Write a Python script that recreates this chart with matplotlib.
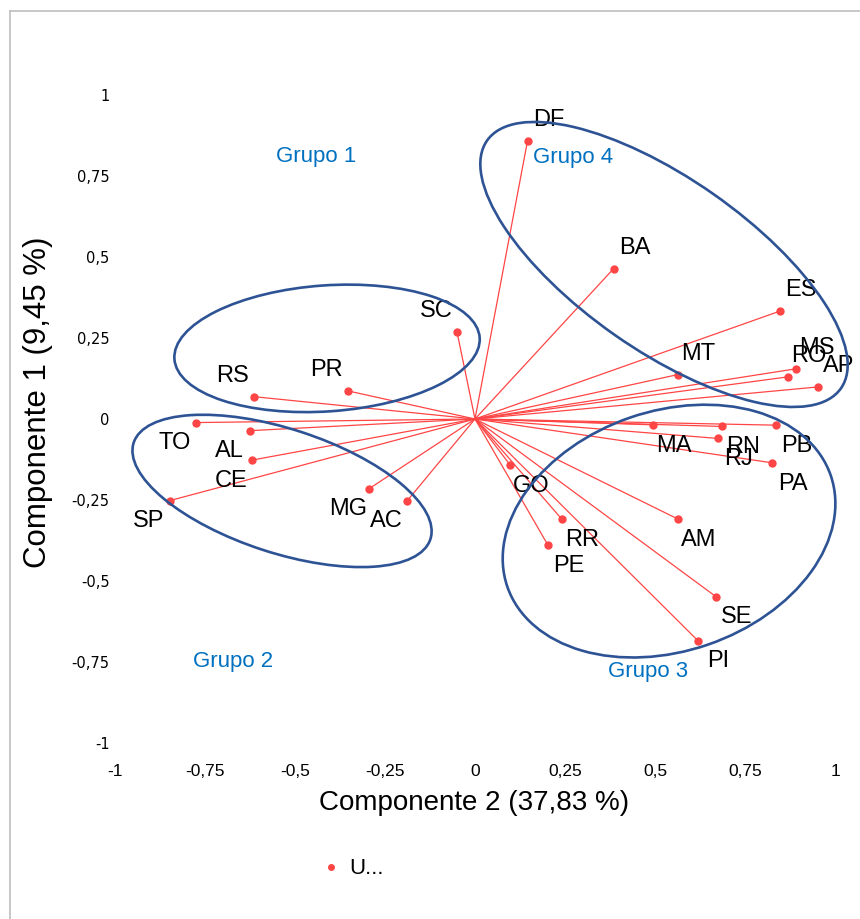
import matplotlib
matplotlib.use("Agg")
import matplotlib.pyplot as plt
import numpy as np
from matplotlib.patches import Ellipse
from matplotlib.transforms import ScaledTranslation

# PCA loadings per state: Componente 2 on x, Componente 1 on y
states = ['DF', 'BA', 'ES', 'MS', 'RO', 'AP', 'MT', 'MA', 'RN', 'PB', 'RJ', 'PA',
          'GO', 'RR', 'PE', 'AM', 'SE', 'PI', 'SC', 'PR', 'RS', 'TO', 'AL', 'CE',
          'SP', 'MG', 'AC']
comp2 = [0.146, 0.385, 0.847, 0.892, 0.869, 0.953, 0.563, 0.495, 0.686, 0.835, 0.675, 0.824,
         0.097, 0.241, 0.202, 0.564, 0.669, 0.619, -0.050, -0.354, -0.615, -0.775, -0.625, -0.620,
         -0.848, -0.294, -0.188]
comp1 = [0.859, 0.464, 0.333, 0.155, 0.130, 0.099, 0.137, -0.018, -0.023, -0.019, -0.060, -0.135,
         -0.141, -0.309, -0.388, -0.309, -0.548, -0.684, 0.269, 0.087, 0.069, -0.011, -0.036, -0.127,
         -0.252, -0.215, -0.252]

ticks = [-1, -0.75, -0.5, -0.25, 0, 0.25, 0.5, 0.75, 1]
tick_labels = ['-1', '-0,75', '-0,5', '-0,25', '0', '0,25', '0,5', '0,75', '1']

# group outlines: name, centre (data), semi-axes (px), angle (deg), label position (data)
groups = [
    ('Grupo 1', (-0.411, 0.218), 153, 63, 4, (-0.442, 0.809)),
    ('Grupo 2', (-0.536, -0.222), 156, 62, -18, (-0.672, -0.750)),
    ('Grupo 3', (0.539, -0.346), 171, 120, 19, (0.481, -0.778)),
    ('Grupo 4', (0.525, 0.477), 216, 86, -35, (0.272, 0.806)),
]

RED = '#FF4545'
BLUE = '#2E5395'
LABEL_BLUE = '#0070C0'

fig = plt.figure(figsize=(8.6, 9.19), dpi=100)
ax = fig.add_axes([115 / 860, 176 / 919, 720 / 860, 648 / 919])
ax.set_xlim(-1, 1)
ax.set_ylim(-1, 1)

for x, y in zip(comp2, comp1):
    ax.plot([0, x], [0, y], color=RED, lw=0.9, zorder=2)
ax.plot(comp2, comp1, 'o', color=RED, ms=5, ls='none', label='U...', zorder=3)

for name, x, y in zip(states, comp2, comp1):
    dx = 15 if x >= 0 else -15
    dy = 15 if y >= 0 else -15
    ax.annotate(name, (x, y), xytext=(dx, dy), textcoords='offset points',
                ha='center', va='center', fontsize=17, family='Liberation Sans',
                color='black', zorder=4)

for name, centre, a, b, ang, lpos in groups:
    tr = fig.dpi_scale_trans + ScaledTranslation(centre[0], centre[1], ax.transData)
    ax.add_patch(Ellipse((0, 0), 2 * a / 100, 2 * b / 100, angle=ang, transform=tr,
                         fill=False, edgecolor=BLUE, lw=1.9, zorder=5, clip_on=False))
    ax.text(lpos[0], lpos[1], name, color=LABEL_BLUE, fontsize=16,
            family='Liberation Sans', ha='center', va='center')

for s in ax.spines.values():
    s.set_visible(False)
ax.set_xticks(ticks)
ax.set_xticklabels(tick_labels, family=['Liberation Sans Narrow', 'Liberation Sans'], fontsize=12.5)
ax.set_yticks(ticks)
ax.set_yticklabels(tick_labels, family='DejaVu Sans', fontsize=10.5)
ax.tick_params(axis='x', length=0, pad=15)
ax.tick_params(axis='y', length=0, pad=4)

fig.text(474 / 860, 1 - 803 / 919, 'Componente 2 (37,83 %)', ha='center', va='center',
         fontsize=20, family='Liberation Sans')
fig.text(38 / 860, 1 - 402 / 919, 'Componente 1 (9,45 %)', ha='center', va='center',
         rotation=90, fontsize=22.5, family='Liberation Sans')

fig.legend(loc='center', bbox_to_anchor=(352 / 860, 1 - 869 / 919), frameon=False,
           prop={'family': 'Liberation Sans', 'size': 16}, handletextpad=0.3,
           handlelength=1.0, markerscale=0.8)

# chart frame, its right and bottom edges fall outside the image
fig.add_artist(plt.Line2D([10 / 860, 10 / 860], [0, 1 - 11 / 919], color='#BFBFBF', lw=1.2,
                          transform=fig.transFigure))
fig.add_artist(plt.Line2D([10 / 860, 1], [1 - 11 / 919, 1 - 11 / 919], color='#BFBFBF', lw=1.2,
                          transform=fig.transFigure))

fig.savefig('out.png', dpi=100)
